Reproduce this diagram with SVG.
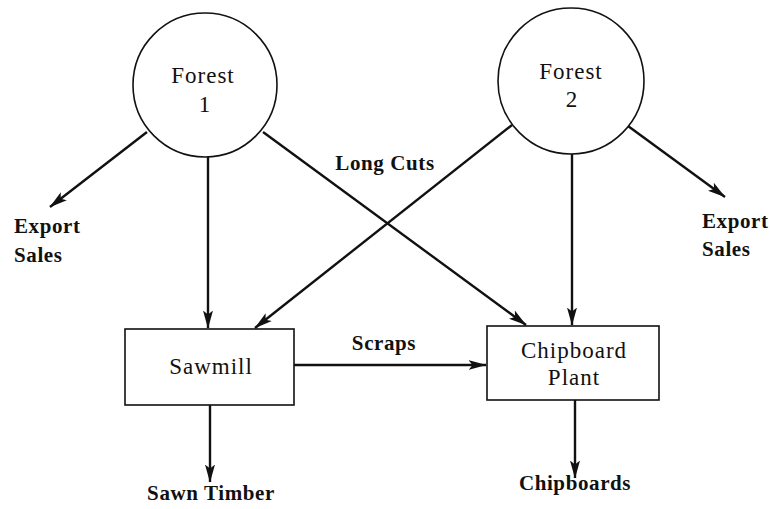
<svg xmlns="http://www.w3.org/2000/svg" width="770" height="509" viewBox="0 0 770 509">
  <style>
    .node { fill: #ffffff; stroke: #111111; stroke-width: 1.6; }
    .lbl { font-family: "Liberation Serif", "Times New Roman", serif; font-size: 23px; fill: #111111; letter-spacing: 1px; }
    .blbl { font-family: "Liberation Serif", "Times New Roman", serif; font-size: 21px; font-weight: bold; fill: #111111; letter-spacing: 0.6px; }
    .edge { stroke: #111111; stroke-width: 2.4; fill: none; marker-end: url(#arrow); }
  </style>
  <defs>
    <marker id="arrow" markerUnits="userSpaceOnUse" viewBox="0 0 18 11" markerWidth="18" markerHeight="11" refX="17.5" refY="5.5" orient="auto">
      <path d="M0,0.5 L18,5.5 L0,10.5 L4,5.5 z" fill="#111111"/>
    </marker>
  </defs>

  <rect width="770" height="509" fill="#ffffff"/>

  <!-- flows between forests, mills and products -->
  <g id="connectors">
    <line class="edge" x1="147" y1="132" x2="50" y2="207"/>
    <line class="edge" x1="208" y1="157" x2="208" y2="328"/>
    <line class="edge" x1="263" y1="132" x2="526" y2="325"/>
    <line class="edge" x1="512" y1="125" x2="255" y2="328"/>
    <line class="edge" x1="572" y1="154" x2="572" y2="325"/>
    <line class="edge" x1="628" y1="126" x2="725" y2="197"/>
    <line class="edge" x1="294" y1="365" x2="486" y2="365"/>
    <line class="edge" x1="210" y1="405" x2="210" y2="482"/>
    <line class="edge" x1="575" y1="400" x2="575" y2="478"/>
  </g>

  <g id="forest1">
    <circle class="node" cx="205" cy="85" r="72"/>
    <text class="lbl" x="203" y="83" text-anchor="middle">Forest</text>
    <text class="lbl" x="205" y="112" text-anchor="middle">1</text>
  </g>

  <g id="forest2">
    <circle class="node" cx="571" cy="81" r="73"/>
    <text class="lbl" x="571" y="79" text-anchor="middle">Forest</text>
    <text class="lbl" x="572" y="107" text-anchor="middle">2</text>
  </g>

  <g id="sawmill">
    <rect class="node" x="125" y="329" width="169" height="76"/>
    <text class="lbl" x="211" y="374" text-anchor="middle">Sawmill</text>
  </g>

  <g id="chipboard-plant">
    <rect class="node" x="487" y="326" width="172" height="74"/>
    <text class="lbl" x="574" y="358" text-anchor="middle">Chipboard</text>
    <text class="lbl" x="574" y="385" text-anchor="middle">Plant</text>
  </g>

  <g id="export-sales-1">
    <text class="blbl" x="14" y="233">Export</text>
    <text class="blbl" x="14" y="262">Sales</text>
  </g>

  <g id="export-sales-2">
    <text class="blbl" x="702" y="228">Export</text>
    <text class="blbl" x="702" y="256">Sales</text>
  </g>

  <g id="sawn-timber">
    <text class="blbl" x="211" y="500" text-anchor="middle">Sawn Timber</text>
  </g>

  <g id="chipboards">
    <text class="blbl" x="575" y="490" text-anchor="middle">Chipboards</text>
  </g>

  <!-- edge labels -->
  <g id="edge-labels">
    <text class="blbl" x="385" y="170" text-anchor="middle">Long Cuts</text>
    <text class="blbl" x="384" y="350" text-anchor="middle">Scraps</text>
  </g>
</svg>
